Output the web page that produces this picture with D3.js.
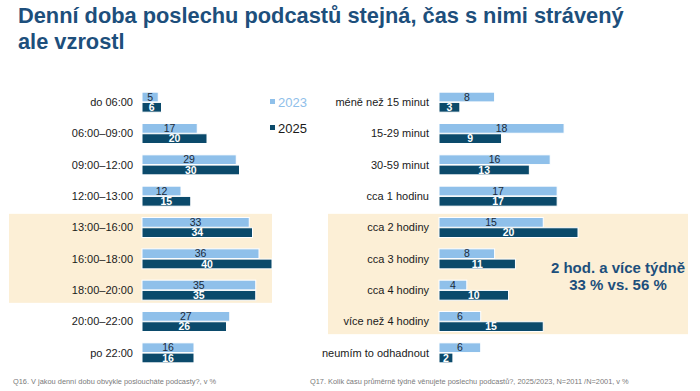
<!DOCTYPE html>
<html><head><meta charset="utf-8">
<script src="https://cdn.jsdelivr.net/npm/d3@7"></script>
<style>body{margin:0;background:#fff}svg{display:block;font-family:"Liberation Sans",Arial,sans-serif}</style>
</head><body><svg id="c" width="700" height="391"></svg>
<script>
const series = ["2023", "2025"];
const leftCats = ["do 06:00","06:00–09:00","09:00–12:00","12:00–13:00","13:00–16:00","16:00–18:00","18:00–20:00","20:00–22:00","po 22:00"];
const left2023 = [5,17,29,12,33,36,35,27,16];
const left2025 = [6,20,30,15,34,40,35,26,16];
const rightCats = ["méně než 15 minut","15-29 minut","30-59 minut","cca 1 hodinu","cca 2 hodiny","cca 3 hodiny","cca 4 hodiny","více než 4 hodiny","neumím to odhadnout"];
const right2023 = [8,18,16,17,15,8,4,6,6];
const right2025 = [3,9,13,17,20,11,10,15,2];
const leftHighlight = ["13:00–16:00","16:00–18:00","18:00–20:00"];
const rightHighlight = ["cca 2 hodiny","cca 3 hodiny","cca 4 hodiny","více než 4 hodiny"];
const titleLines = ["Denní doba poslechu podcastů stejná, čas s nimi strávený","ale vzrostl"];
const callout = ["2 hod. a více týdně","33 % vs. 56 %"];
const note1 = "Q16. V jakou denní dobu obvykle posloucháte podcasty?, v %";
const note2 = "Q17. Kolik času průměrně týdně věnujete poslechu podcastů?, 2025/2023,  N=2011 /N=2001, v %";

const colors = {"2023":"#8fc0ea","2025":"#0b4a6b"};
const svg = d3.select("#c");

// title
svg.append("text").attr("x",18).attr("y",0).attr("fill","#1d4f7c")
  .attr("font-size",21.8).attr("font-weight","bold")
  .selectAll("tspan").data(titleLines).join("tspan")
  .attr("x",18).attr("y",(d,i)=>23+i*26).text(d=>d);

function panel(cats, v23, v25, xScale, labelX, hl, hlX0, hlX1) {
  const y = d3.scaleBand().domain(cats).range([86.5, 368.5]);
  const inner = d3.scaleBand().domain(series).range([0,20]).paddingInner(0.05);
  const g = svg.append("g");
  const hy0 = y(hl[0]) + 2, hy1 = y(hl[hl.length-1]) + y.bandwidth() - 3;
  g.append("rect").attr("x",hlX0).attr("y",hy0).attr("width",hlX1-hlX0).attr("height",hy1-hy0).attr("fill","#fcefd6");
  const rows = cats.map((c,i)=>({c, vals:[{s:"2023",v:v23[i]},{s:"2025",v:v25[i]}]}));
  const rg = g.selectAll("g.row").data(rows).join("g").attr("transform",d=>`translate(0,${y(d.c)+y.bandwidth()/2-10})`);
  rg.append("text").attr("x",labelX).attr("y",10).attr("dy","0.35em").attr("text-anchor","end")
    .attr("font-size",11).attr("fill","#1a1a1a").text(d=>d.c);
  const b = rg.selectAll("g.b").data(d=>d.vals).join("g");
  b.append("rect").attr("x",xScale(0)).attr("y",d=>inner(d.s)).attr("width",d=>xScale(d.v)-xScale(0))
    .attr("height",inner.bandwidth()).attr("fill",d=>colors[d.s]).attr("stroke","#fff").attr("stroke-width",1);
  b.append("text").attr("x",d=>(xScale(d.v)+xScale(0))/2).attr("y",d=>inner(d.s)+inner.bandwidth()/2)
    .attr("dy","0.36em").attr("text-anchor","middle").attr("font-size",10.5)
    .attr("font-weight",d=>d.s==="2025"?"bold":"normal")
    .attr("fill",d=>d.s==="2025"?"#fff":"#1a2a3a").text(d=>d.v);
}
const xl = d3.scaleLinear().domain([0,40]).range([142,272]);
const xr = d3.scaleLinear().domain([0,20]).range([439,578]);
panel(leftCats,left2023,left2025,xl,133,leftHighlight,9,272);
panel(rightCats,right2023,right2025,xr,429,rightHighlight,328,688);

// legend
const lg = svg.append("g").selectAll("g").data(series).join("g").attr("transform",(d,i)=>`translate(270,${102+i*26})`);
lg.append("rect").attr("x",0).attr("y",-3).attr("width",5).attr("height",5).attr("fill",d=>colors[d]);
lg.append("text").attr("x",8).attr("y",0).attr("dy","0.35em").attr("font-size",13)
  .attr("fill",d=>d==="2023"?"#8fc0ea":"#1a1a1a").text(d=>d);

// callout
svg.append("text").attr("text-anchor","middle").attr("fill","#1d4f7c").attr("font-size",15).attr("font-weight","bold")
  .selectAll("tspan").data(callout).join("tspan").attr("x",618).attr("y",(d,i)=>273+i*17).text(d=>d);

// notes
svg.append("text").attr("x",13).attr("y",384).attr("font-size",7.4).attr("fill","#7a7a7a").text(note1);
svg.append("text").attr("x",310).attr("y",384).attr("font-size",7.4).attr("fill","#7a7a7a").text(note2);
</script></body></html>
